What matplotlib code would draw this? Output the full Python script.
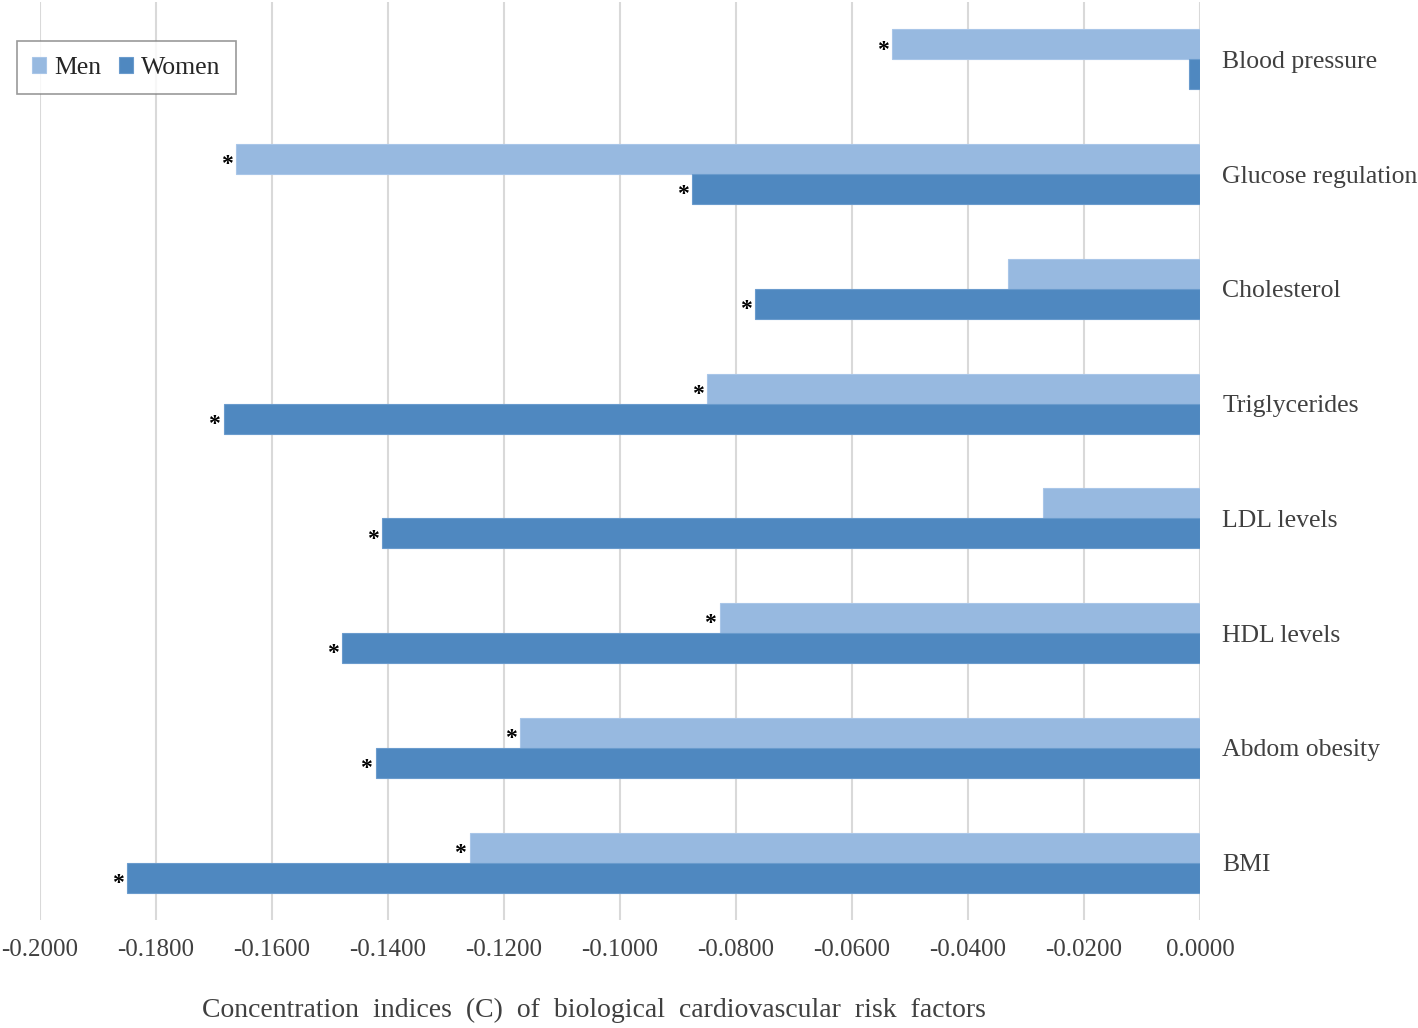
import matplotlib.pyplot as plt
import numpy as np

categories = ['Blood pressure', 'Glucose regulation', 'Cholesterol', 'Triglycerides',
              'LDL levels', 'HDL levels', 'Abdom obesity', 'BMI']
men = [-0.0531, -0.1662, -0.0331, -0.0850, -0.0271, -0.0828, -0.1172, -0.1259]
women = [-0.0019, -0.0876, -0.0767, -0.1683, -0.1410, -0.1479, -0.1421, -0.1850]
men_sig = [True, True, False, True, False, True, True, True]
women_sig = [False, True, True, True, True, True, True, True]
xticks = [-0.2, -0.18, -0.16, -0.14, -0.12, -0.10, -0.08, -0.06, -0.04, -0.02, 0.0]

plt.rcParams['font.family'] = ['Liberation Serif', 'DejaVu Serif']

fig = plt.figure(figsize=(14.18, 10.28), dpi=100)
ax = fig.add_axes([40 / 1418, 108 / 1028, 1160 / 1418, 918 / 1028])

men_c = '#97B9E0'
women_c = '#4F88C0'
h = 0.262
y = np.arange(len(categories))
ax.barh(y - h / 2, men, height=h, color=men_c, edgecolor='#A9C6E8', linewidth=0.8, label='Men', zorder=2)
ax.barh(y + h / 2, women, height=h, color=women_c, edgecolor='#6A9BCD', linewidth=0.8, label='Women', zorder=2)

# significance marks
for i in range(len(categories)):
    if men_sig[i]:
        ax.text(men[i] - 0.0006, y[i] - h / 2 + 0.05, '*', ha='right', va='center', fontsize=17, fontweight='bold', zorder=3)
    if women_sig[i]:
        ax.text(women[i] - 0.0006, y[i] + h / 2 + 0.05, '*', ha='right', va='center', fontsize=17, fontweight='bold', zorder=3)

ax.set_xlim(-0.2, 0.0)
ax.set_ylim(len(categories) - 0.5, -0.5)
ax.set_xticks(xticks)
ax.set_xticklabels(['%.4f' % v for v in xticks], fontsize=18, color='#404040')
ax.set_yticks(y)
ax.set_yticklabels(categories, fontsize=18.5, color='#404040')
ax.yaxis.tick_right()
ax.tick_params(axis='y', length=0, pad=16)
ax.tick_params(axis='x', length=0, pad=14)
ax.grid(axis='x', color='#D9D9D9', linewidth=1.5, zorder=0)
ax.set_axisbelow(True)
for s in ax.spines.values():
    s.set_visible(False)

fig.text(594 / 1418, 1 - 1010 / 1028,
         'Concentration  indices  (C)  of  biological  cardiovascular  risk  factors',
         fontsize=20, color='#404040', ha='center', va='center')

leg = ax.legend(loc='upper left', bbox_to_anchor=(-0.031, 0.971), ncol=2, fontsize=18.5,
                frameon=True, fancybox=False, edgecolor='#808080', handlelength=0.55,
                handleheight=0.55, handletextpad=0.3, columnspacing=0.7, borderpad=0.6)
leg.get_frame().set_linewidth(1.2)
for t in leg.get_texts():
    t.set_color('#262626')

fig.savefig('out.png', dpi=100)
